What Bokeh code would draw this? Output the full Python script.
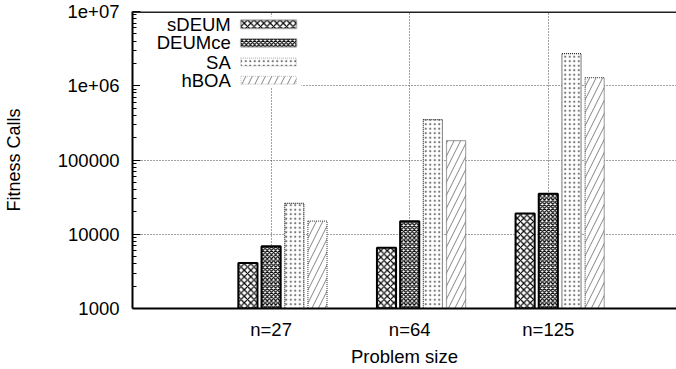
from bokeh.plotting import figure
from bokeh.models import FixedTicker, Label, BoxAnnotation, Range1d, ColumnDataSource, Span
from bokeh.embed import file_html
from bokeh.resources import INLINE

categories = ["n=27", "n=64", "n=125"]
series = ["sDEUM", "DEUMce", "SA", "hBOA"]
sdeum = [4100, 6600, 19000]
deumce = [6900, 15000, 35000]
sa = [26000, 350000, 2700000]
hboa = [15000, 182000, 1290000]
y_ticks = [1000, 10000, 100000, 1000000, 10000000]
y_tick_labels = ["1000", "10000", "100000", "1e+06", "1e+07"]

FONT = "Liberation Sans"
FS = "18.5px"

p = figure(width=676, height=369, y_axis_type="log",
           x_range=Range1d(0, 3.925), y_range=Range1d(1000, 1e7),
           output_backend="svg", toolbar_location=None, min_border=0,
           min_border_left=132, min_border_right=0, min_border_top=11, min_border_bottom=57)
p.outline_line_color = None
p.background_fill_color = "white"
p.border_fill_color = "white"

cat_pos = [i + 1 for i in range(len(categories))]
step = 0.1673
bw = 0.138
offsets = [-1, 0, 1, 2]
values = [sdeum, deumce, sa, hboa]
styles = [
    dict(hatch_pattern="diagonal_cross", hatch_scale=6.5, hatch_weight=1.2, hatch_color="black",
         line_color="black", line_width=2, line_dash="solid"),
    dict(hatch_pattern="diagonal_cross", hatch_scale=4.2, hatch_weight=1.2, hatch_color="black",
         line_color="black", line_width=2, line_dash="solid"),
    dict(hatch_pattern="dot", hatch_scale=4.5, hatch_weight=0.8, hatch_color="#777777",
         line_color="#222222", line_width=1.2, line_dash="1 1"),
    dict(hatch_pattern="right_diagonal_line", hatch_scale=13, hatch_weight=0.9, hatch_color="#777777",
         line_color="#555555", line_width=1.2, line_dash="1 1"),
]

for name, vals, off, st in zip(series, values, offsets, styles):
    src = ColumnDataSource(dict(x=[c + off * step for c in cat_pos], top=vals,
                                bottom=[y_ticks[0]] * len(vals), cat=categories))
    p.vbar(x="x", top="top", bottom="bottom", width=bw, source=src,
           fill_color="white", **st)

# axes
p.xaxis.ticker = FixedTicker(ticks=cat_pos)
p.xaxis.major_label_overrides = {c: l for c, l in zip(cat_pos, categories)}
p.xaxis.axis_label = "Problem size"
p.yaxis.axis_label = "Fitness Calls"
minor = [m * t for t in y_ticks[:-1] for m in range(2, 10)]
p.yaxis.ticker = FixedTicker(ticks=y_ticks, minor_ticks=minor)
p.yaxis.major_label_overrides = {t: l for t, l in zip(y_ticks, y_tick_labels)}

for ax in (p.xaxis[0], p.yaxis[0]):
    ax.axis_line_width = 2
    ax.axis_line_color = "black"
    ax.major_label_text_font = FONT
    ax.major_label_text_font_size = FS
    ax.major_label_text_color = "black"
    ax.axis_label_text_font = FONT
    ax.axis_label_text_font_size = FS
    ax.axis_label_text_font_style = "normal"
    ax.axis_label_text_color = "black"
    ax.major_tick_out = 0
    ax.minor_tick_out = 0

p.xaxis.major_tick_in = 0
p.xaxis.minor_tick_line_color = None
p.xaxis.major_label_standoff = 10
p.xaxis.axis_label_standoff = 3
p.yaxis.major_tick_in = 8
p.yaxis.minor_tick_in = 4
p.yaxis.major_label_standoff = 13
p.yaxis.axis_label_standoff = 31
p.yaxis.axis_label_text_font_size = "18px"

# top border
p.add_layout(Span(location=y_ticks[-1], dimension="width", line_color="#222222", line_width=3))

# grid
p.xgrid.ticker = FixedTicker(ticks=cat_pos)
p.ygrid.ticker = FixedTicker(ticks=y_ticks)
for g in (p.xgrid[0], p.ygrid[0]):
    g.grid_line_color = "#444444"
    g.grid_line_dash = "1 2"
    g.grid_line_width = 1

# legend (gnuplot style: label, then sample)
def ylog(d):
    return 10 ** (7 - d)

p.add_layout(BoxAnnotation(left=0.055, right=1.218, top=ylog(0.066), bottom=ylog(1.03),
                           fill_color="white", fill_alpha=1, line_alpha=0))
row_d = [0.172, 0.423, 0.681, 0.926]
for name, d, st in zip(series, row_d, styles):
    p.add_layout(Label(x=0.709, y=ylog(d), text=name, text_align="right",
                       text_baseline="middle", text_font=FONT, text_font_size=FS,
                       text_color="black"))
    p.add_layout(BoxAnnotation(left=0.782, right=1.182, top=ylog(d - 0.053), bottom=ylog(d + 0.053),
                               fill_color="white", fill_alpha=1, **st))

open("out.html", "w").write(file_html(p, INLINE))
